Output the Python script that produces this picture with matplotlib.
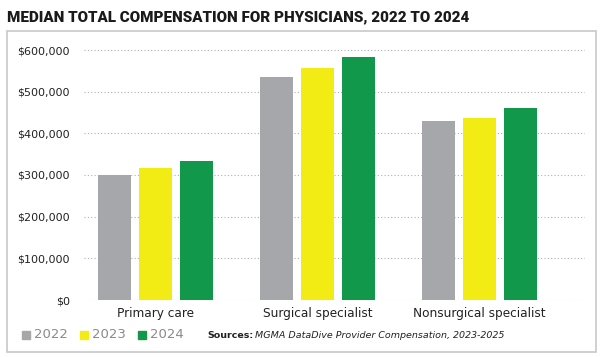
import numpy as np
import matplotlib.pyplot as plt
from matplotlib.patches import Rectangle
from matplotlib.ticker import FuncFormatter

categories = ["Primary care", "Surgical specialist", "Nonsurgical specialist"]
years = ["2022", "2023", "2024"]
comp_2022 = [299000, 534000, 430000]
comp_2023 = [316000, 556000, 436000]
comp_2024 = [334000, 584000, 462000]
colors = ["#a6a7aa", "#f2ec14", "#12984a"]

fig = plt.figure(figsize=(6.04, 3.57), dpi=100)
W, H = 604, 357

# outer frame
fig.patches.append(Rectangle((7 / W, 1 - 352 / H), 589 / W, 321 / H,
                             transform=fig.transFigure, fill=False,
                             edgecolor="#c8c8c8", linewidth=1.2))

fig.text(7 / W, 1 - 17 / H, "MEDIAN TOTAL COMPENSATION FOR PHYSICIANS, 2022 TO 2024",
         fontsize=10.9, fontfamily="Roboto", fontweight="black", color="#1a1a1a",
         va="center", ha="left")

ymax = 610000
top_px = 300 - 250 * ymax / 600000
ax = fig.add_axes([84 / W, 1 - 300 / H, (585 - 84) / W, (300 - top_px) / H])

x = np.arange(len(categories))
step = 0.253
width = 0.2
for i, vals in enumerate([comp_2022, comp_2023, comp_2024]):
    ax.bar(x + (i - 1) * step, vals, width=width, color=colors[i], zorder=3)

ax.set_ylim(0, ymax)
ax.set_xlim(-0.44, 2.65)
ax.set_yticks(np.arange(0, 600001, 100000))
ax.yaxis.set_major_formatter(FuncFormatter(lambda v, p: f"${v:,.0f}"))
ax.set_xticks(x, categories)
ax.grid(axis="y", linestyle=(0, (1, 2)), color="#b0b0b0", linewidth=0.8, zorder=0)
for s in ax.spines.values():
    s.set_visible(False)
ax.tick_params(axis="y", length=0, pad=10, labelsize=8, labelcolor="#222222")
ax.tick_params(axis="x", length=0, pad=5, labelsize=8.7, labelcolor="#222222")

# legend keys
ly = 1 - 335 / H
for i, (yr, c) in enumerate(zip(years, colors)):
    x0 = 22 + i * 58
    fig.patches.append(Rectangle((x0 / W, ly - 4 / H), 8 / W, 8 / H,
                                 transform=fig.transFigure, color=c))
    fig.text((x0 + 12) / W, ly, yr, fontsize=9.5, color="#8a8a8a",
             va="center", ha="left")

t1 = fig.text(207 / W, ly, "Sources:", fontsize=6.8, fontweight="bold",
              color="#222222", va="center", ha="left")
fig.canvas.draw()
bb = t1.get_window_extent()
fig.text((bb.x1 + 2) / W, ly, "MGMA DataDive Provider Compensation, 2023-2025",
         fontsize=6.8, style="italic", color="#222222", va="center", ha="left")

fig.savefig("out.png", dpi=100)
